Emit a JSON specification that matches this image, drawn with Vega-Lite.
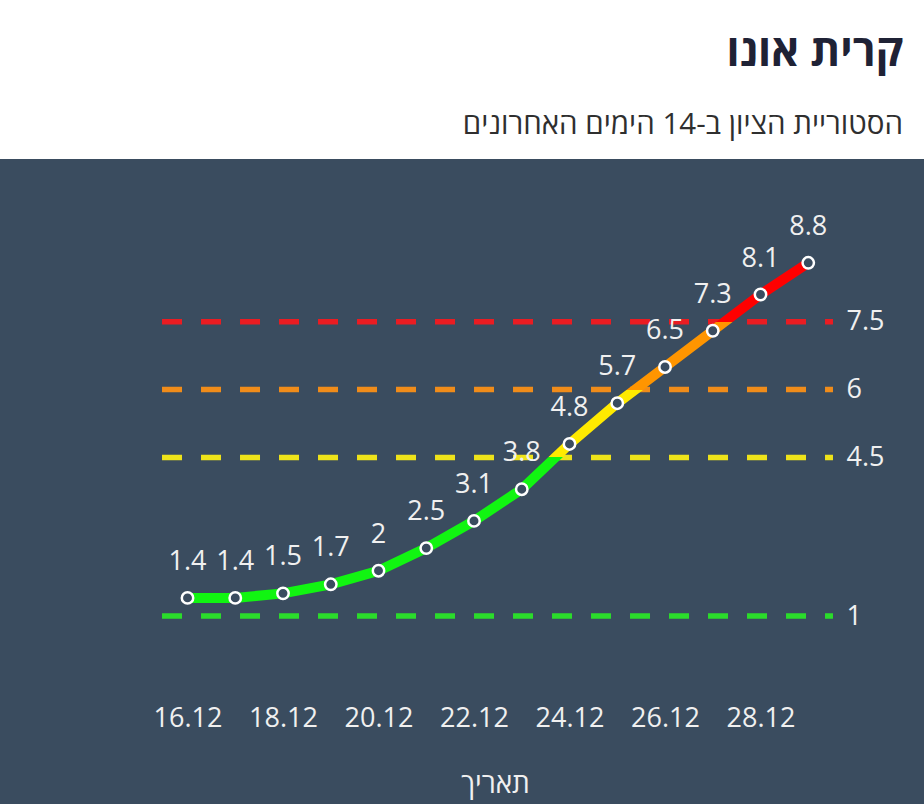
{
  "$schema": "https://vega.github.io/schema/vega-lite/v6.json",
  "width": 924,
  "height": 645,
  "autosize": {"type": "none"},
  "padding": {"top": 159, "left": 0, "right": 0, "bottom": 0},
  "background": "white",
  "title": {
    "text": "קרית אונו",
    "subtitle": "הסטוריית הציון ב-14 הימים האחרונים",
    "anchor": "end",
    "frame": "group",
    "orient": "top",
    "fontSize": 43,
    "fontWeight": "bold",
    "color": "#1f2235",
    "subtitleFontSize": 29.5,
    "subtitleColor": "#2f2f2f",
    "subtitleFontWeight": "normal",
    "subtitlePadding": 36,
    "dx": -21,
    "offset": 20
  },
  "datasets": {
    "scores": [
      {"date": "16.12", "day": 16, "score": 1.4},
      {"date": "17.12", "day": 17, "score": 1.4},
      {"date": "18.12", "day": 18, "score": 1.5},
      {"date": "19.12", "day": 19, "score": 1.7},
      {"date": "20.12", "day": 20, "score": 2},
      {"date": "21.12", "day": 21, "score": 2.5},
      {"date": "22.12", "day": 22, "score": 3.1},
      {"date": "23.12", "day": 23, "score": 3.8},
      {"date": "24.12", "day": 24, "score": 4.8},
      {"date": "25.12", "day": 25, "score": 5.7},
      {"date": "26.12", "day": 26, "score": 6.5},
      {"date": "27.12", "day": 27, "score": 7.3},
      {"date": "28.12", "day": 28, "score": 8.1},
      {"date": "29.12", "day": 29, "score": 8.8}
    ],
    "levels": [
      {"level": 1},
      {"level": 4.5},
      {"level": 6},
      {"level": 7.5}
    ]
  },
  "layer": [
    {
      "data": {"name": "levels"},
      "mark": {"type": "rule", "strokeWidth": 5.5, "strokeDash": [20, 19]},
      "encoding": {
        "x": {"datum": 15.466, "type": "quantitative"},
        "x2": {"datum": 29.518},
        "y": {
          "field": "level",
          "type": "quantitative",
          "scale": {"domain": [-3.152, 11.093], "nice": false, "zero": false},
          "axis": {
            "orient": "right",
            "values": [1, 4.5, 6, 7.5],
            "format": "~g",
            "domain": false,
            "ticks": false,
            "grid": false,
            "labelPadding": 13,
            "labelFontSize": 27,
            "labelColor": "#f0f0f0",
            "offset": -91,
            "title": null
          }
        },
        "color": {
          "field": "level",
          "type": "ordinal",
          "scale": {"domain": [1, 4.5, 6, 7.5], "range": ["#2bdc2b", "#eee31a", "#f08c1a", "#ea1c22"]},
          "legend": null
        }
      }
    },
    {
      "data": {"name": "scores"},
      "mark": {
        "type": "line",
        "strokeWidth": 10,
        "color": {
          "gradient": "linear",
          "x1": 0, "y1": 1, "x2": 0, "y2": 0,
          "stops": [
            {"offset": 0, "color": "#11f511"},
            {"offset": 0.419, "color": "#11f511"},
            {"offset": 0.419, "color": "#ffea00"},
            {"offset": 0.6216, "color": "#ffea00"},
            {"offset": 0.6216, "color": "#ff9500"},
            {"offset": 0.8243, "color": "#ff9500"},
            {"offset": 0.8243, "color": "#ff0000"},
            {"offset": 1, "color": "#ff0000"}
          ]
        }
      },
      "encoding": {
        "x": {
          "field": "day",
          "type": "quantitative",
          "scale": {"domain": [12.073, 31.424], "nice": false, "zero": false},
          "axis": {
            "values": [16, 18, 20, 22, 24, 26, 28],
            "labelExpr": "datum.value + '.12'",
            "domain": false,
            "ticks": false,
            "grid": false,
            "labelPadding": 0,
            "labelBaseline": "alphabetic",
            "labelFontSize": 27,
            "labelColor": "#f0f0f0",
            "labelFlush": false,
            "offset": -78,
            "title": "תאריך",
            "titleFontSize": 28,
            "titleFontWeight": "normal",
            "titleColor": "#f0f0f0",
            "titleBaseline": "alphabetic",
            "titleY": 66,
            "titleX": 495
          }
        },
        "y": {"field": "score", "type": "quantitative"}
      }
    },
    {
      "data": {"name": "scores"},
      "mark": {"type": "circle", "size": 130, "fill": "#3a4c5f", "stroke": "white", "strokeWidth": 2.5, "opacity": 1},
      "encoding": {
        "x": {"field": "day", "type": "quantitative"},
        "y": {"field": "score", "type": "quantitative"}
      }
    },
    {
      "data": {"name": "scores"},
      "mark": {"type": "text", "dy": -28, "baseline": "alphabetic", "fontSize": 27, "color": "#f0f0f0"},
      "encoding": {
        "x": {"field": "day", "type": "quantitative"},
        "y": {"field": "score", "type": "quantitative"},
        "text": {"field": "score", "type": "quantitative", "format": "~g"}
      }
    }
  ],
  "config": {
    "font": "Open Sans",
    "view": {"fill": "#3a4c5f", "stroke": null}
  }
}
